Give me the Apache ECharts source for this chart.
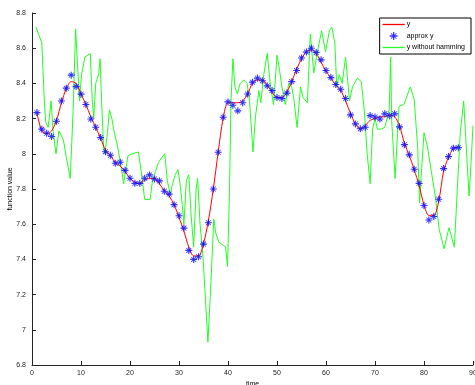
<!DOCTYPE html>
<html><head><meta charset="utf-8">
<script src="https://cdn.jsdelivr.net/npm/echarts@6/dist/echarts.min.js"></script>
<style>html,body{margin:0;padding:0;background:#fff}#c{width:475px;height:385px}</style>
</head><body><div id="c"></div>
<script>
// approx y (blue stars), at t = 1..87
const approxY = [8.234,8.14,8.117,8.098,8.185,8.30,8.373,8.447,8.382,8.339,
8.28,8.198,8.151,8.092,8.012,7.992,7.946,7.952,7.906,7.861,
7.832,7.832,7.861,7.88,7.857,7.846,7.787,7.771,7.711,7.648,
7.578,7.451,7.40,7.415,7.487,7.608,7.80,8.009,8.208,8.295,
8.276,8.244,8.29,8.34,8.407,8.43,8.415,8.386,8.36,8.32,
8.314,8.345,8.41,8.473,8.544,8.578,8.60,8.576,8.534,8.473,
8.433,8.394,8.367,8.314,8.221,8.17,8.142,8.151,8.217,8.209,
8.198,8.227,8.216,8.227,8.153,8.052,7.994,7.912,7.832,7.706,
7.624,7.644,7.742,7.916,7.984,8.032,8.035];
// y (red), at t = 1..87
const yRed = [8.234,8.13,8.115,8.13,8.19,8.29,8.37,8.41,8.40,8.34,
8.28,8.21,8.15,8.09,8.02,7.99,7.95,7.93,7.90,7.86,
7.84,7.83,7.85,7.86,7.86,7.83,7.79,7.76,7.71,7.64,
7.56,7.47,7.42,7.42,7.49,7.62,7.80,8.01,8.20,8.29,
8.29,8.29,8.30,8.34,8.40,8.42,8.42,8.39,8.35,8.32,
8.32,8.35,8.41,8.48,8.54,8.58,8.59,8.57,8.52,8.47,
8.43,8.39,8.36,8.30,8.23,8.17,8.14,8.16,8.19,8.20,
8.21,8.21,8.22,8.21,8.16,8.06,7.99,7.91,7.82,7.71,
7.65,7.65,7.73,7.90,7.98,8.03,8.04];
// y without hamming (green)
const greenT = [0.8,2.0,2.5,2.8,3.3,3.9,4.3,4.9,5.5,5.9,6.4,7.0,7.8,8.4,8.9,9.3,9.7,10.1,10.5,10.8,
11.9,12.3,12.6,13.0,13.6,13.9,14.2,14.6,14.9,15.4,15.8,16.3,16.8,17.4,18.0,18.7,19.6,20.5,21.7,22.3,
23.0,24.1,24.6,25.2,25.8,26.5,27.1,27.6,28.2,28.7,29.2,29.8,30.3,30.7,31.0,31.5,32.0,32.5,33.0,33.5,
33.8,34.3,34.9,35.4,35.9,36.4,37.1,37.5,38.1,39.0,39.5,39.9,40.3,40.6,41.0,41.4,41.9,42.5,43.2,43.9,
44.4,45.1,45.6,46.3,46.7,47.3,48.0,48.7,49.3,50.0,50.5,51.0,51.7,52.4,53.0,53.4,54.1,54.8,55.3,56.2,
56.8,57.5,58.2,59.1,59.9,60.7,61.2,61.8,62.2,62.7,63.3,64.0,64.8,65.4,66.4,67.2,67.8,68.4,69.0,69.5,
70.0,70.5,71.2,72.0,72.9,73.2,73.4,74.1,74.9,75.9,77.2,78.0,78.7,79.1,79.6,80.0,80.7,81.5,82.4,83.1,
84.1,85.1,86.2,86.8,87.4,88.1,88.6,89.2,89.6,90.0];
const greenY = [8.72,8.63,8.31,8.18,8.15,8.30,8.13,8.00,8.13,8.14,8.08,7.98,7.86,8.25,8.71,8.50,8.30,8.45,8.45,8.55,
8.57,8.30,8.20,8.40,8.45,8.54,8.30,8.04,8.00,8.12,8.25,8.20,8.12,8.05,7.96,7.83,7.99,8.00,8.01,7.90,
7.74,7.74,7.85,7.90,7.95,7.98,8.00,7.85,7.77,7.83,7.88,7.91,7.81,7.70,7.60,7.85,7.88,7.64,7.47,7.80,
7.86,7.60,7.41,7.17,6.93,7.20,7.63,7.55,7.50,7.48,7.47,7.36,7.78,8.29,8.54,8.38,8.34,8.40,8.42,8.40,
8.30,8.01,8.21,8.36,8.29,8.45,8.57,8.38,8.28,8.56,8.48,8.38,8.28,8.40,8.38,8.32,8.15,8.38,8.32,8.29,
8.68,8.46,8.57,8.70,8.58,8.70,8.72,8.63,8.38,8.45,8.40,8.55,8.30,8.38,8.43,8.41,8.25,8.00,7.83,8.14,
8.20,8.14,8.14,8.15,8.25,8.55,8.19,7.86,8.27,8.28,8.38,8.31,8.04,7.72,7.95,8.12,8.04,7.90,7.74,7.57,
7.46,7.58,7.47,7.80,8.12,8.30,8.05,7.76,7.95,8.16];
const xTicks = {min:0, max:90, interval:10};
const yTicks = {min:6.8, max:8.8, interval:0.2};

const star = 'path://M-5,-0.8L5,-0.8L5,0.8L-5,0.8Z M-0.8,-5L0.8,-5L0.8,5L-0.8,5Z M-3.1,-3.9L3.9,3.1L3.1,3.9L-3.9,-3.1Z M3.1,-3.9L3.9,-3.1L-3.1,3.9L-3.9,3.1Z';
const lineIcon = 'path://M0,0L22,0L22,1.3L0,1.3Z';
const font = 'Liberation Sans, Arial, sans-serif';
const chart = echarts.init(document.getElementById('c'));
chart.setOption({
  animation:false,
  backgroundColor:'#fff',
  grid:{left:32,right:2,top:13,bottom:20,containLabel:false,outerBoundsMode:'none'},
  legend:{
    orient:'vertical', right:4, top:18, itemWidth:22, itemHeight:8, itemGap:4,
    padding:[3,6,3,3], borderColor:'#000', borderWidth:1, backgroundColor:'#fff',
    textStyle:{fontSize:7,fontFamily:font,color:'#000',padding:[0,0,0,-3]},
    data:[{name:'y',icon:lineIcon},{name:'approx y',icon:star},{name:'y without hamming',icon:lineIcon}]
  },
  xAxis:{type:'value',min:xTicks.min,max:xTicks.max,interval:xTicks.interval,
    name:'time',nameLocation:'middle',nameGap:16,nameMoveOverlap:false,
    nameTextStyle:{fontSize:7,fontFamily:font,color:'#000'},
    axisLine:{lineStyle:{color:'#222',width:1}},
    axisTick:{inside:true,length:4,lineStyle:{color:'#222'}},
    axisLabel:{fontSize:7,fontFamily:font,color:'#222',margin:5},
    splitLine:{show:false}},
  yAxis:{type:'value',min:yTicks.min,max:yTicks.max,interval:yTicks.interval,
    name:'function value',nameLocation:'middle',nameGap:18,nameMoveOverlap:false,
    nameTextStyle:{fontSize:7,fontFamily:font,color:'#000'},
    axisLine:{show:true,lineStyle:{color:'#222',width:1}},
    axisTick:{show:true,inside:true,length:4,lineStyle:{color:'#222'}},
    axisLabel:{fontSize:7,fontFamily:font,color:'#222',margin:6},
    splitLine:{show:false}},
  series:[
    {name:'y',type:'line',symbol:'none',smooth:0.3,z:3,
     lineStyle:{color:'#ff0000',width:1},itemStyle:{color:'#ff0000'},
     data:yRed.map((v,i)=>[i+1,v])},
    {name:'approx y',type:'scatter',symbol:star,symbolSize:7,z:4,
     itemStyle:{color:'#0000ff'},
     data:approxY.map((v,i)=>[i+1,v])},
    {name:'y without hamming',type:'line',symbol:'none',z:2,
     lineStyle:{color:'#22ff22',width:1},itemStyle:{color:'#22ff22'},
     data:greenT.map((t,i)=>[t,greenY[i]])}
  ]
});
</script></body></html>
